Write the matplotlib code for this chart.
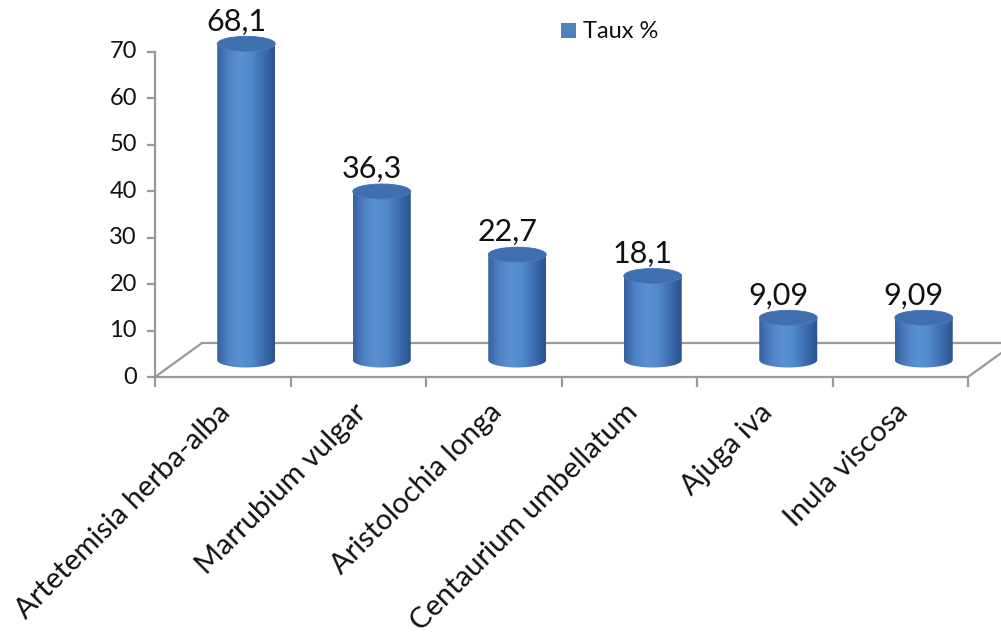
import matplotlib
matplotlib.use("Agg")
import matplotlib.pyplot as plt
import numpy as np
from matplotlib.patches import Polygon, Ellipse, Rectangle
from matplotlib.colors import LinearSegmentedColormap

# data
categories = ["Artetemisia herba-alba", "Marrubium vulgar", "Aristolochia longa",
              "Centaurium umbellatum", "Ajuga iva", "Inula viscosa"]
values = [68.1, 36.3, 22.7, 18.1, 9.09, 9.09]
yticks = [0, 10, 20, 30, 40, 50, 60, 70]
series_name = "Taux %"

AXC = "#9a9a9a"
FONT = "Lato"
plt.rcParams["font.family"] = [FONT, "DejaVu Sans"]

fig = plt.figure(figsize=(10.01, 6.44), dpi=100)
ax = fig.add_axes([0, 0, 1, 1])
# pixel mapping: x=0 -> 155px, 135.5 px/category ; y=0 -> 377px from top, 4.643 px/unit
PX, PY = 135.5, 4.643
xlim = (-155 / PX, (1001 - 155) / PX)
ylim = ((377 - 644) / PY, 377 / PY)
ax.set_xlim(*xlim); ax.set_ylim(*ylim)
ax.axis("off")

n = len(categories)
DX, DY = 47 / PX, 34 / PY          # 3D depth offset
W = 29 / PX                        # cylinder half width
EH = 15 / PY                       # ellipse height

# floor
ax.plot([0, n], [0, 0], color=AXC, lw=1.6, zorder=1)
ax.plot([0, DX], [0, DY], color=AXC, lw=1.6, zorder=1)
ax.plot([DX, n + DX], [DY, DY], color=AXC, lw=1.6, zorder=1)
ax.plot([n, n + DX], [0, DY], color=AXC, lw=1.6, zorder=1)
# y axis
ax.plot([0, 0], [0, yticks[-1]], color=AXC, lw=1.6, zorder=1)
for t in yticks:
    ax.plot([-7 / PX, 0], [t, t], color=AXC, lw=1.6, zorder=1)
    ax.text(-18 / PX, t, str(t), ha="right", va="center", fontsize=17, color="#111111")
for i in range(n + 1):
    ax.plot([i, i], [0, -9 / PY], color=AXC, lw=1.6, zorder=1)

cmap = LinearSegmentedColormap.from_list(
    "cyl", ["#3561a0", "#4f82c4", "#5b92d3", "#5088c9", "#3d6cad", "#2a528c"])
grad = np.linspace(0, 1, 256).reshape(1, -1)

for i, (cat, v) in enumerate(zip(categories, values)):
    xc = i + 0.5 + DX / 2
    base = DY / 2
    top = base + v
    t1 = np.linspace(np.pi, 2 * np.pi, 60)
    t2 = np.linspace(0, np.pi, 60)
    xs = np.concatenate([xc + W * np.cos(t1), xc + W * np.cos(t2)])
    ys = np.concatenate([base + EH / 2 * np.sin(t1), top + EH / 2 * np.sin(t2)])
    body = Polygon(np.column_stack([xs, ys]), closed=True, facecolor="none",
                   edgecolor="none", zorder=3)
    ax.add_patch(body)
    im = ax.imshow(grad, cmap=cmap, aspect="auto", interpolation="bicubic",
                   extent=[xc - W, xc + W, base - EH, top + EH], zorder=3)
    im.set_clip_path(body)
    ax.add_patch(Ellipse((xc, top), 2 * W, EH, facecolor="#3f6fae",
                         edgecolor="#4a7cbc", lw=0.6, zorder=4))
    lab = f"{v:g}".replace(".", ",")
    ax.text(xc - 10 / PX, top + EH / 2 + 6 / PY, lab, ha="center", va="baseline",
            fontsize=22, color="#111111", zorder=5)
    ax.text(i + 0.46, -22 / PY, cat, ha="right", va="top", rotation=45,
            rotation_mode="anchor", fontsize=21, color="#111111")

ax.set_xlim(*xlim); ax.set_ylim(*ylim)

# legend
ax.add_patch(Rectangle(((561 - 155) / PX, (377 - 38) / PY), 15 / PX, 15 / PY,
                       facecolor="#4f81bd", edgecolor="none"))
ax.text((583 - 155) / PX, (377 - 31) / PY, series_name, ha="left", va="center",
        fontsize=17, color="#111111")

fig.savefig("out.png", dpi=100, facecolor="white")
